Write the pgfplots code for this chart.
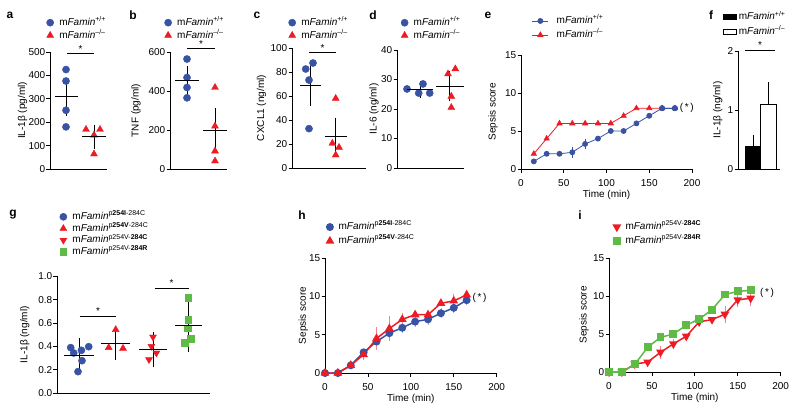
\documentclass[border=0pt]{standalone}
\usepackage{fontspec}
\setmainfont{Liberation Sans}
\usepackage{pgfplots}
\pgfplotsset{compat=1.18}
\definecolor{nblue}{RGB}{57,83,164}
\definecolor{nred}{RGB}{237,28,36}
\definecolor{ngreen}{RGB}{96,186,70}
\pgfplotsset{
 panel/.style={
  scale only axis, anchor=south west, clip=false,
  axis lines=left, axis line style={-, line width=0.8pt, black},
  tick style={black, line width=0.8pt},
  tick align=outside, major tick length=3.5pt,
  tick label style={font=\fontsize{10}{12}\selectfont},
  yticklabel style={inner sep=1pt},
  xticklabel style={yshift=-3pt},
  xlabel shift=-3pt,
  label style={font=\fontsize{10}{12}\selectfont},
  /pgf/number format/assume math mode=true,
  legend cell align=left,
  legend style={draw=none, fill=none, inner sep=0pt, outer sep=0pt, anchor=north west, row sep=0pt,
     font=\fontsize{10}{12}\selectfont, nodes={inner sep=1pt, text height=8pt, text depth=2.7pt},
     /tikz/every odd column/.style={column sep=4.5pt}},
  legend image code/.code={\draw[##1] plot coordinates {(0pt,0pt)};},
 },
 scat/.style={panel, xmin=0, ymin=0, xtick=\empty},
 time/.style={panel, xmin=0, xmax=200, ymin=0, ymax=15, xtick={0,50,...,200}, ytick={0,5,10,15},
   xlabel={Time (min)}, ylabel={Sepsis score}},
 meanbar/.style 2 args={black, line width=0.9pt, mark=-, mark size=#1, forget plot,
   error bars/.cd, y dir=both, y explicit, error bar style={line width=0.9pt, black},
   error mark options={line width=0.9pt, mark size=#2, black}},
 sigline/.style={black, line width=0.8pt, forget plot},
 errs/.style={forget plot, draw=none, mark=none, error bars/.cd, y dir=both, y explicit,
   error bar style={line width=0.8pt, draw=#1}, error mark options={line width=0.8pt, mark size=3pt, draw=#1}},
 lineleg/.style={legend image code/.code={\draw[mark repeat=2, mark phase=2, ##1] plot coordinates {(-8pt,0pt)(0pt,0pt)(8pt,0pt)};}},
 boxleg/.style={legend image code/.code={\draw[##1] (0pt,-2.5pt) rectangle (13pt,2.5pt);}},
 dot/.style={only marks, mark=*, mark size=3.6pt, nblue},
 tri/.style={only marks, mark=triangle*, mark size=4pt, nred},
}
\newcommand{\famin}[1]{m\textit{Famin}\textsuperscript{#1}}
\begin{document}
\begin{tikzpicture}
\path[use as bounding box] (0,0) rectangle (800pt,-415pt);
\tikzset{plabel/.style={font=\bfseries\fontsize{12}{14}\selectfont, inner sep=0pt}}
\node[plabel] at (10pt,-15pt) {a};
\node[plabel] at (133pt,-15pt) {b};
\node[plabel] at (257pt,-15pt) {c};
\node[plabel] at (373pt,-15pt) {d};
\node[plabel] at (488pt,-15pt) {e};
\node[plabel] at (711pt,-15pt) {f};
\node[plabel] at (13pt,-215pt) {g};
\node[plabel] at (302pt,-215pt) {h};
\node[plabel] at (580pt,-215pt) {i};

% ---- a
\begin{axis}[scat, at={(50pt,-169pt)}, width=57pt, height=117pt, xmax=57, ymax=500,
  ytick={0,100,...,500}, ylabel={IL-1β (pg/ml)}, ylabel shift=-3pt, legend style={at={(-0.06,1.305)}}]
\addplot[dot] coordinates {(16,425)(16,376)(16,251)(16,180)};
\addlegendentry{\famin{+/+}}
\addplot[tri] coordinates {(36,169)(50,169)(44,145)(44,64)};
\addlegendentry{\famin{–/–}}
\addplot[meanbar={11.5pt}{6pt}] coordinates {(16.3,309) +- (0,56)};
\addplot[meanbar={12pt}{6pt}] coordinates {(44,137) +- (0,25)};
\addplot[sigline] coordinates {(17,493)(44,493)};
\node at (axis cs:30.5,512) {*};
\end{axis}

% ---- b
\begin{axis}[scat, at={(170pt,-169pt)}, width=57pt, height=117pt, xmax=57, ymax=600,
  ytick={0,200,400,600}, ylabel={TNF (pg/ml)}, ylabel shift=3.5pt, legend style={at={(-0.096,1.305)}}]
\addplot[dot] coordinates {(17,564)(17,469)(17,418)(17,365)};
\addlegendentry{\famin{+/+}}
\addplot[tri] coordinates {(45,418)(45,220)(45,92)(45,41)};
\addlegendentry{\famin{–/–}}
\addplot[meanbar={12pt}{6pt}] coordinates {(17,455) +- (0,43)};
\addplot[meanbar={11.7pt}{6pt}] coordinates {(45,197.5) +- (0,83.5)};
\addplot[sigline] coordinates {(17,617)(45,617)};
\node at (axis cs:31,640) {*};
\end{axis}

% ---- c
\begin{axis}[scat, at={(292pt,-168pt)}, width=74pt, height=120pt, xmax=74, ymax=100,
  ytick={0,20,...,100}, ylabel={CXCL1 (ng/ml)}, legend style={at={(-0.046,1.264)}}]
\addplot[dot] coordinates {(13.7,82.5)(21,87.5)(17,73.3)(17,32.8)};
\addlegendentry{\famin{+/+}}
\addplot[tri] coordinates {(43.7,58)(40.4,20.6)(47,17.2)(43.7,10.8)};
\addlegendentry{\famin{–/–}}
\addplot[meanbar={10.8pt}{6pt}] coordinates {(18.5,68.75) +- (0,12.25)};
\addplot[meanbar={11.2pt}{6pt}] coordinates {(43.9,26.5) +- (0,10.5)};
\addplot[sigline] coordinates {(17,96)(44,96)};
\node at (axis cs:30.5,100) {*};
\end{axis}

% ---- d
\begin{axis}[scat, at={(397pt,-168pt)}, width=67pt, height=118pt, xmax=67, ymax=40,
  ytick={0,10,...,40}, ylabel={IL-6 (ng/ml)}, ylabel shift=-2pt, legend style={at={(0.06,1.285)}}]
\addplot[dot] coordinates {(10,26.8)(26,28.5)(21.7,25.4)(32.7,25.4)};
\addlegendentry{\famin{+/+}}
\addplot[tri] coordinates {(51,31.9)(58.3,33.6)(54.3,24.3)(54.3,20.5)};
\addlegendentry{\famin{–/–}}
\addplot[meanbar={13pt}{6pt}] coordinates {(23,26.6) +- (0,0.7)};
\addplot[meanbar={13.8pt}{6pt}] coordinates {(52.8,27.7) +- (0,3.1)};
\end{axis}

% ---- e
\begin{axis}[time, lineleg, at={(521pt,-169pt)}, width=171pt, height=114pt, ylabel shift=3pt,
  legend style={at={(0.064,1.36)}, nodes={text height=8.5pt, text depth=3.5pt}, /tikz/every odd column/.style={column sep=7pt}}]
\addplot[errs=nblue] coordinates {(60,2.2) +- (0,0.35) (75,3.3) +- (0,0.3)};
\addplot[nblue, line width=0.8pt, mark=*, mark size=2.5pt] coordinates {
(15,1)(30,2)(45,2)(60,2.2)(75,3.3)(90,4)(105,5)(120,5)(135,6)(150,7)(165,8)(180,8)};
\addlegendentry{\famin{+/+}}
\addplot[nred, line width=0.8pt, mark=triangle*, mark size=2.9pt] coordinates {
(15,2)(30,4)(45,6)(60,6)(75,6)(90,6)(105,6)(120,7)(135,8)(150,8)(165,8)(180,8)};
\addlegendentry{\famin{–/–}}
\addplot[nblue, line width=0.8pt, mark=*, mark size=2.5pt, forget plot] coordinates {(165,8)(180,8)};
\node at (axis cs:194,8) {(\,*\,)};
\end{axis}

% ---- f
\begin{axis}[scat, boxleg, at={(738pt,-169pt)}, width=42pt, height=118pt, xmax=42, ymax=2,
  ytick={0,1,2}, ylabel={IL-1β (ng/ml)}, ylabel shift=0.7pt,
  legend style={at={(-0.357,1.35)}, nodes={text height=9pt, text depth=3.5pt}, /tikz/every odd column/.style={column sep=1pt}}]
\addplot[ybar, bar width=15.5pt, bar shift=0pt, fill=black, draw=black, line width=0.8pt,
  error bars/.cd, y dir=plus, y explicit, error bar style={line width=0.8pt, black},
  error mark options={line width=0.8pt, mark size=6pt, black}] coordinates {(15,0.377) +- (0,0.102)};
\addlegendentry{\famin{+/+}}
\addplot[ybar, bar width=15.5pt, bar shift=0pt, fill=white, draw=black, line width=0.8pt,
  error bars/.cd, y dir=plus, y explicit, error bar style={line width=0.8pt, black},
  error mark options={line width=0.8pt, mark size=7.5pt, black}] coordinates {(30.5,1.099) +- (0,0.247)};
\addlegendentry{\famin{–/–}}
\addplot[sigline] coordinates {(7.3,2.01)(36.7,2.01)};
\node at (axis cs:22,2.1) {*};
\end{axis}

% ---- g
\begin{axis}[scat, at={(57pt,-393pt)}, width=153.4pt, height=116.7pt, xmax=153.4, ymax=1,
  ytick={0,0.2,...,1.0}, yticklabel style={/pgf/number format/.cd, fixed, fixed zerofill, precision=1},
  ylabel={IL-1β (ng/ml)}, ylabel shift=4.4pt,
  legend style={at={(0.018,1.56)}, nodes={text height=7.5pt, text depth=2.2pt}}]
\addplot[dot] coordinates {(13.7,0.389)(16.7,0.343)(24.4,0.366)(31.7,0.397)(25,0.277)(21,0.183)};
\addlegendentry{\famin{p\textbf{254I}-284C}}
\addplot[tri] coordinates {(58.7,0.543)(51.7,0.389)(66,0.383)};
\addlegendentry{\famin{p\textbf{254V}-284C}}
\addplot[tri, mark options={rotate=180}] coordinates {(96,0.48)(94.4,0.40)(99.4,0.343)(92,0.286)};
\addlegendentry{\famin{p254V-\textbf{284C}}}
\addplot[only marks, mark=square*, mark size=3.3pt, ngreen] coordinates {(131,0.817)(131,0.629)(130.4,0.557)(133.7,0.463)(127.7,0.431)};
\addlegendentry{\famin{p254V-\textbf{284R}}}
\addplot[meanbar={15pt}{8pt}] coordinates {(22,0.326) +- (0,0.074)};
\addplot[meanbar={14.5pt}{8pt}] coordinates {(58.9,0.427) +- (0,0.076)};
\addplot[meanbar={14pt}{8pt}] coordinates {(96,0.374) +- (0,0.083)};
\addplot[meanbar={13.5pt}{8pt}] coordinates {(131.9,0.576) +- (0,0.153)};
\addplot[sigline] coordinates {(22.7,0.657)(59.4,0.657)};
\addplot[sigline] coordinates {(97.7,0.9)(132,0.9)};
\node at (axis cs:41,0.70) {*};
\node at (axis cs:114.5,0.943) {*};
\end{axis}

% ---- h
\begin{axis}[time, at={(325pt,-373pt)}, width=171.7pt, height=115pt, ylabel shift=-3.3pt,
  legend style={at={(0.010,1.330)}, nodes={text height=8.5pt, text depth=3.5pt}}]
\addplot[errs=nblue!45] coordinates {(60,4.1) +- (0,0.3) (75,5.2) +- (0,0.35) (90,5.9) +- (0,0.3) (105,6.7) +- (0,0.35) (120,7.0) +- (0,0.35) (135,7.8) +- (0,0.25) (150,8.5) +- (0,0.3) (165,9.5) +- (0,0.3)};
\addplot[errs=nred!55] coordinates {(45,2.4) +- (0,0.3) (60,4.5) +- (0,1.1) (75,5.8) +- (0,1.2) (90,7.0) +- (0,0.4) (150,9.4) +- (0,0.55)};
\addplot[nblue, line width=1.5pt, mark=*, mark size=3.2pt] coordinates {
(0,0)(15,0)(30,1.0)(45,2.7)(60,4.1)(75,5.2)(90,5.9)(105,6.7)(120,7.0)(135,7.8)(150,8.5)(165,9.5)};
\addlegendentry{\famin{p\textbf{254I}-284C}}
\addplot[nred, line width=1.5pt, mark=triangle*, mark size=3.6pt] coordinates {
(0,0)(15,0)(30,1.0)(45,2.4)(60,4.5)(75,5.8)(90,7.0)(105,7.6)(120,7.6)(135,9.1)(150,9.4)(165,10.2)};
\addlegendentry{\famin{p\textbf{254V}-284C}}
\node at (axis cs:180,9.8) {(\,*\,)};
\end{axis}

% ---- i
\begin{axis}[time, at={(609pt,-372pt)}, width=171.7pt, height=114pt,
  legend style={at={(0.027,1.333)}, nodes={text height=8.5pt, text depth=3.5pt}}]
\addplot[errs=nred!55] coordinates {(60,2.6) +- (0,0.45) (75,3.7) +- (0,0.25) (135,7.6) +- (0,0.7) (150,9.5) +- (0,0.55) (165,9.7) +- (0,0.6)};
\addplot[nred, line width=1.5pt, mark=triangle*, mark size=3.6pt, mark options={rotate=180}] coordinates {
(0,0)(15,0)(30,1.05)(45,1.3)(60,2.6)(75,3.7)(90,4.7)(105,6.6)(120,6.9)(135,7.6)(150,9.5)(165,9.7)};
\addlegendentry{\famin{p254V-\textbf{284C}}}
\addplot[ngreen, line width=1.5pt, mark=square*, mark size=3.2pt] coordinates {
(0,0)(15,0)(30,1.0)(45,3.25)(60,4.56)(75,5.0)(90,6.14)(105,6.97)(120,8.2)(135,10.2)(150,10.6)(165,10.75)};
\addlegendentry{\famin{p254V-\textbf{284R}}}
\node at (axis cs:184,10.4) {(\,*\,)};
\end{axis}
\end{tikzpicture}
\end{document}
